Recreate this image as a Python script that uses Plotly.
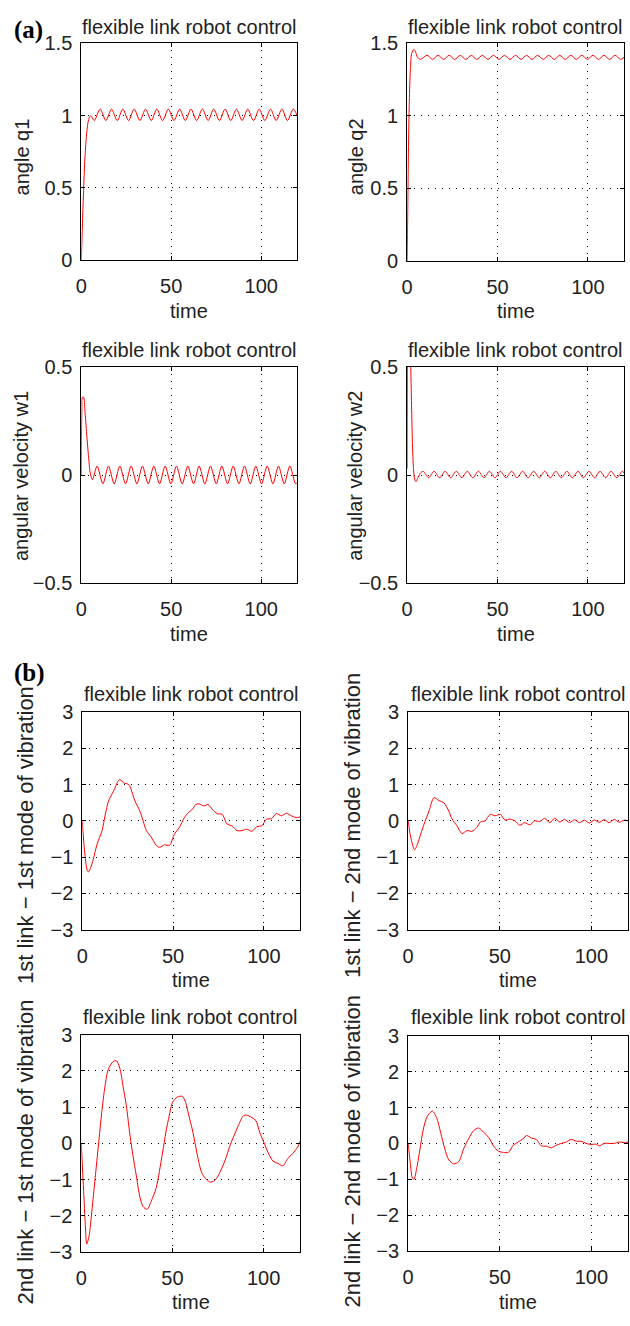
import plotly.graph_objects as go

W, H = 630, 1326

# ---- (a) joint angles / angular velocities ----
t_q1 = [0, 0.4, 0.9, 1.4, 2.0, 2.8, 3.7, 4.6, 5.3, 7.2,
        10.5, 13.7, 16.8, 20.0, 23.1, 26.3, 29.4, 32.6, 35.7, 38.9, 42.0, 45.2,
        48.4, 51.5, 54.7, 57.8, 61.0, 64.1, 67.3, 70.5, 73.6, 76.8, 79.9, 83.1,
        86.2, 89.4, 92.5, 95.7, 98.9, 102.0, 105.2, 108.3, 111.5, 114.6, 117.8, 120]
q1 = [0, 0.15, 0.35, 0.52, 0.70, 0.85, 0.95, 0.99, 1.0, 0.965,
      1.045, 0.965, 1.045, 0.965, 1.045, 0.965, 1.045, 0.965, 1.045, 0.965, 1.045, 0.965,
      1.045, 0.965, 1.045, 0.965, 1.045, 0.965, 1.045, 0.965, 1.045, 0.965, 1.045, 0.965,
      1.045, 0.965, 1.045, 0.965, 1.045, 0.965, 1.045, 0.965, 1.045, 0.965, 1.045, 1.0]

t_q2 = [0, 0.3, 0.7, 1.2, 1.8, 2.5, 3.7, 4.7, 5.7, 7.3,
        11.0, 14.1, 17.1, 20.2, 23.2, 26.3, 29.4, 32.4, 35.5, 38.5, 41.6, 44.7,
        47.7, 50.8, 53.8, 56.9, 60.0, 63.0, 66.1, 69.1, 72.2, 75.3, 78.3, 81.4,
        84.4, 87.5, 90.6, 93.6, 96.7, 99.7, 102.8, 105.9, 108.9, 112.0, 115.0, 118.1, 120]
q2 = [0, 0.3, 0.75, 1.1, 1.32, 1.43, 1.46, 1.44, 1.405, 1.39,
      1.418, 1.39, 1.418, 1.39, 1.418, 1.39, 1.418, 1.39, 1.418, 1.39, 1.418, 1.39,
      1.418, 1.39, 1.418, 1.39, 1.418, 1.39, 1.418, 1.39, 1.418, 1.39, 1.418, 1.39,
      1.418, 1.39, 1.418, 1.39, 1.418, 1.39, 1.418, 1.39, 1.418, 1.39, 1.418, 1.39, 1.405]

t_w1 = [0, 0.3, 0.6, 1.3, 2.0, 3.0, 4.0, 5.0, 6.2,
        8.8, 12.0, 15.1, 18.3, 21.4, 24.6, 27.7, 30.9, 34.0, 37.2, 40.3, 43.5,
        46.6, 49.8, 52.9, 56.1, 59.2, 62.4, 65.5, 68.7, 71.8, 75.0, 78.1, 81.3,
        84.4, 87.6, 90.7, 93.9, 97.0, 100.2, 103.3, 106.5, 109.6, 112.8, 115.9, 119.1, 120]
w1 = [0, 0.3, 0.36, 0.36, 0.3, 0.19, 0.09, 0.01, -0.021,
      0.042, -0.04, 0.042, -0.04, 0.042, -0.04, 0.042, -0.04, 0.042, -0.04, 0.042, -0.04,
      0.042, -0.04, 0.042, -0.04, 0.042, -0.04, 0.042, -0.04, 0.042, -0.04, 0.042, -0.04,
      0.042, -0.04, 0.042, -0.04, 0.042, -0.04, 0.042, -0.04, 0.042, -0.04, 0.042, -0.04, -0.035]

t_w2 = [0, 0.3, 0.8, 1.3, 2.0, 2.5, 3.0, 3.6, 4.2, 4.9, 5.8, 7.2,
        8.8, 11.9, 14.9, 18.0, 21.0, 24.1, 27.2, 30.2, 33.3, 36.3, 39.4, 42.5,
        45.5, 48.6, 51.6, 54.7, 57.8, 60.8, 63.9, 66.9, 70.0, 73.1, 76.1, 79.2,
        82.2, 85.3, 88.4, 91.4, 94.5, 97.5, 100.6, 103.7, 106.7, 109.8, 112.8, 115.9, 119.0, 120]
w2 = [0.03, 0.7, 0.95, 0.85, 0.5, 0.3, 0.13, 0.02, -0.02, -0.03, -0.015, 0.008,
      0.018, -0.012, 0.018, -0.012, 0.018, -0.012, 0.018, -0.012, 0.018, -0.012, 0.018, -0.012,
      0.018, -0.012, 0.018, -0.012, 0.018, -0.012, 0.018, -0.012, 0.018, -0.012, 0.018, -0.012,
      0.018, -0.012, 0.018, -0.012, 0.018, -0.012, 0.018, -0.012, 0.018, -0.012, 0.018, -0.012, 0.018, 0.01]

# ---- (b) modes of vibration ----
t_m11 = [0, 1.2, 2.7, 3.4, 5.4, 8.2, 10.9, 12.7, 14.5, 17.2, 19.9, 20.8, 22.7, 25.7, 27.2,
         29.0, 31.7, 33.5, 35.3, 38.0, 40.8, 42.6, 45.3, 48.0, 50.8, 53.5, 56.2, 58.5,
         60.7, 62.5, 64.3, 67.0, 69.2, 71.6, 74.3, 77.0, 79.8, 82.5, 85.2, 87.9, 90.6,
         93.4, 96.1, 98.8, 101.5, 104.2, 106.9, 109.7, 112.4, 115.1, 117.8, 120]
m11 = [0, -0.8, -1.36, -1.41, -1.18, -0.64, -0.27, 0.18, 0.55, 0.82, 1.11, 1.14, 1.05, 1.0, 0.82,
       0.55, 0.27, 0.0, -0.27, -0.45, -0.68, -0.73, -0.66, -0.68, -0.36, -0.18, 0.09, 0.23,
       0.32, 0.45, 0.47, 0.41, 0.45, 0.32, 0.2, 0.18, -0.09, -0.14, -0.27, -0.27, -0.23,
       -0.29, -0.16, -0.14, 0.05, 0.06, 0.2, 0.14, 0.21, 0.14, 0.09, 0.11]

t_m12 = [0, 1.4, 3.5, 5.1, 6.9, 8.7, 11.4, 14.1, 16.8, 19.5, 22.2, 24.0, 26.7, 29.4, 32.1,
         34.8, 37.5, 39.4, 42.0, 44.8, 47.5, 50.2, 52.9, 55.6, 58.3, 61.0, 63.7, 66.4,
         69.1, 71.8, 74.5, 77.3, 80.0, 82.7, 85.4, 88.1, 90.8, 93.5, 96.2, 98.9, 101.6,
         104.3, 107.0, 109.7, 112.5, 115.2, 117.9, 120]
m12 = [0, -0.45, -0.8, -0.64, -0.36, -0.09, 0.27, 0.64, 0.56, 0.5, 0.27, 0.05, -0.14, -0.35, -0.27,
       -0.29, -0.18, -0.03, 0.0, 0.18, 0.14, 0.18, 0.02, 0.05, 0.0, -0.12, -0.05, -0.11,
       0.0, -0.02, 0.07, -0.05, 0.07, -0.03, 0.04, -0.05, 0.03, -0.05, 0.02, -0.06, 0.02,
       -0.04, 0.03, -0.05, 0.04, -0.04, 0.02, 0.0]

t_m21 = [0, 1.3, 2.2, 3.0, 4.3, 5.8, 7.6, 9.4, 11.2, 13.0, 14.8, 17.5, 19.3, 21.1, 22.9,
         24.7, 26.5, 28.3, 30.1, 31.9, 33.8, 36.1, 38.3, 41.0, 42.8, 44.6, 46.4, 48.2,
         50.0, 52.7, 55.4, 57.2, 59.0, 60.8, 62.6, 64.4, 66.2, 68.9, 70.8, 73.5, 76.2,
         78.9, 81.6, 83.8, 86.1, 88.8, 90.6, 93.3, 95.7, 97.8, 100.0, 102.3, 105.1, 107.8,
         110.5, 113.2, 115.9, 118.6, 120]
m21 = [0, -1.33, -2.24, -2.78, -2.55, -1.87, -0.96, -0.05, 0.85, 1.58, 2.04, 2.26, 2.28, 2.08, 1.58,
       1.04, 0.31, -0.33, -0.87, -1.42, -1.74, -1.82, -1.6, -1.24, -0.78, -0.24, 0.31, 0.76,
       1.13, 1.28, 1.3, 1.13, 0.76, 0.4, -0.05, -0.51, -0.83, -1.01, -1.07, -1.01, -0.78,
       -0.46, -0.05, 0.22, 0.49, 0.76, 0.78, 0.72, 0.63, 0.31, 0.04, -0.24, -0.49, -0.55,
       -0.62, -0.42, -0.28, -0.1, 0.06]

t_m22 = [0, 1.1, 2.3, 3.2, 4.7, 6.5, 8.3, 10.5, 13.2, 15.5, 17.7, 20.0, 22.2, 24.9, 27.6,
         30.3, 33.0, 35.7, 38.4, 41.2, 43.9, 46.6, 49.3, 52.0, 54.7, 57.4, 60.1, 62.8,
         64.6, 67.3, 70.0, 72.7, 75.5, 78.2, 80.9, 83.6, 86.3, 89.0, 91.7, 94.4, 97.1,
         99.8, 102.5, 104.3, 107.0, 109.7, 112.5, 115.2, 117.9, 120]
m22 = [0, -0.51, -0.96, -1.0, -0.69, -0.15, 0.4, 0.76, 0.9, 0.72, 0.31, -0.15, -0.46, -0.57, -0.51,
       -0.15, 0.13, 0.35, 0.43, 0.31, 0.17, -0.07, -0.22, -0.25, -0.25, -0.05, 0.04, 0.13,
       0.22, 0.15, 0.11, -0.07, -0.08, -0.12, -0.05, 0.0, 0.04, 0.11, 0.06, 0.06, 0.0,
       -0.03, -0.02, -0.07, 0.0, 0.0, 0.0, 0.04, 0.02, 0.04]

x_ticks = [0, 50, 100]
angle_ticks = [0, 0.5, 1, 1.5]
vel_ticks = [-0.5, 0, 0.5]
mode_ticks = [-3, -2, -1, 0, 1, 2, 3]

title_text = "flexible link robot control"

# (t, y, ylabel, yrange, yticks, plot box px [x0, x1, y0, y1], ylabel x px, ylabel y px, ylabel size)
panels = [
    (t_q1, q1, "angle q1", [0, 1.5], angle_ticks, [76, 294, 33, 253], 16, 148, 20),
    (t_q2, q2, "angle q2", [0, 1.5], angle_ticks, [405, 624, 33, 254], 353, 148, 20),
    (t_w1, w1, "angular velocity w1", [-0.5, 0.5], vel_ticks, [76, 294, 362, 582], 15, 473, 20),
    (t_w2, w2, "angular velocity w2", [-0.5, 0.5], vel_ticks, [405, 624, 362, 582], 353, 473, 20),
    (t_m11, m11, "1st link \u2212 1st mode of vibration", [-3, 3], mode_ticks, [77, 297, 713, 934], 19, 838, 22),
    (t_m12, m12, "1st link \u2212 2nd mode of vibration", [-3, 3], mode_ticks, [406, 628, 713, 934], 350, 828, 22),
    (t_m21, m21, "2nd link \u2212 1st mode of vibration", [-3, 3], mode_ticks, [76, 297, 1041, 1262], 20, 1160, 22),
    (t_m22, m22, "2nd link \u2212 2nd mode of vibration", [-3, 3], mode_ticks, [406, 628, 1042, 1261], 350, 1160, 22),
]
title_y = [16, 16, 345, 345, 695, 695, 1023, 1023]
time_y = [305, 305, 634, 634, 985, 985, 1313, 1313]


def fmt(v):
    s = ("%g" % v).replace("-", "\u2212")
    return s


FONT = "Liberation Sans, Arial, Helvetica, sans-serif"

fig = go.Figure()
annotations = []
layout = {}
for i, (t, y, ylab, yr, yt, box, lx, ly, lsize) in enumerate(panels):
    n = "" if i == 0 else str(i + 1)
    x0, x1, y0, y1 = box
    fig.add_trace(go.Scatter(x=t, y=y, mode="lines", xaxis="x" + n, yaxis="y" + n,
                             line=dict(color="#ff0000", width=1, shape="spline", smoothing=0.8),
                             showlegend=False, hoverinfo="skip"))
    common = dict(showline=True, linecolor="black", linewidth=1, mirror="ticks",
                  ticks="inside", ticklen=4, tickcolor="black",
                  showgrid=True, gridcolor="black", gridwidth=1, griddash="1px,6px",
                  zeroline=False, tickfont=dict(family=FONT, size=20, color="#222"))
    layout["xaxis" + n] = dict(common, domain=[x0 / W, x1 / W], anchor="y" + n,
                               range=[0, 120], tickvals=x_ticks, ticktext=[fmt(v) for v in x_ticks],
                               ticklabelstandoff=8)
    layout["yaxis" + n] = dict(common, domain=[1 - y1 / H, 1 - y0 / H], anchor="x" + n,
                               range=yr, tickvals=yt, ticktext=[fmt(v) for v in yt],
                               ticklabelstandoff=4)
    annotations.append(dict(text=title_text, x=(x0 + x1) / 2 / W, y=1 - title_y[i] / H,
                            xref="paper", yref="paper", showarrow=False,
                            xanchor="center", yanchor="middle",
                            font=dict(family=FONT, size=20, color="#222")))
    annotations.append(dict(text="time", x=(x0 + x1) / 2 / W, y=1 - time_y[i] / H,
                            xref="paper", yref="paper", showarrow=False,
                            xanchor="center", yanchor="middle",
                            font=dict(family=FONT, size=20, color="#222")))
    annotations.append(dict(text=ylab, x=lx / W, y=1 - ly / H, textangle=-90,
                            xref="paper", yref="paper", showarrow=False,
                            xanchor="center", yanchor="middle",
                            font=dict(family=FONT, size=lsize, color="#222")))

for label, py in [("(a)", 19), ("(b)", 673)]:
    annotations.append(dict(text="<b>" + label + "</b>", x=6 / W, y=1 - py / H,
                            xref="paper", yref="paper", showarrow=False,
                            xanchor="left", yanchor="middle",
                            font=dict(family="Liberation Serif, Times New Roman, serif",
                                      size=25, color="black")))

fig.update_layout(width=W, height=H, margin=dict(l=0, r=0, t=0, b=0),
                  plot_bgcolor="white", paper_bgcolor="white",
                  annotations=annotations, **layout)

# drop the default page margin / scrollbars so the figure sits flush in the window
fig.write_html("out.html", config={"displayModeBar": False},
               post_script="document.documentElement.style.margin='0';"
                           "document.body.style.margin='0';"
                           "document.documentElement.style.overflow='hidden';"
                           "document.body.style.overflow='hidden';")
